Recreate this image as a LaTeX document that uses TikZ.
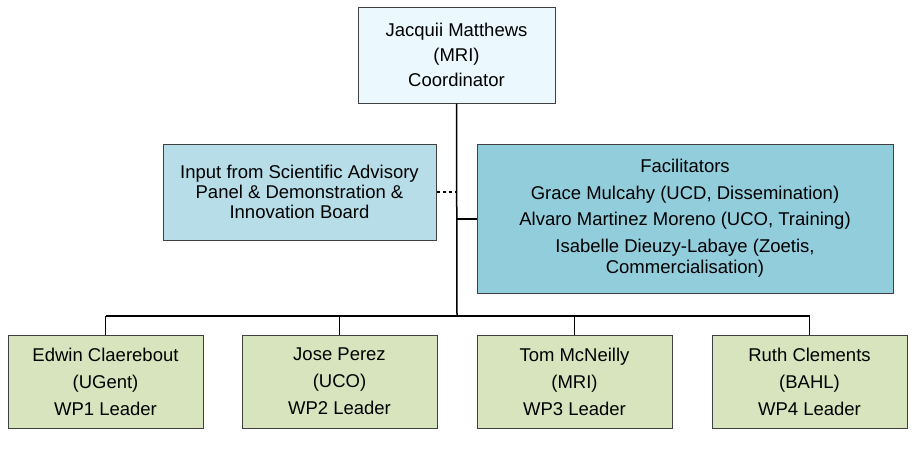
\documentclass[tikz,border=0pt]{standalone}
\usepackage{fontspec}
\setmainfont{Liberation Sans}
\begin{document}
\begin{tikzpicture}[x=1pt,y=-1pt,
 box/.style={draw=black!75,line width=1pt,align=center,font=\fontsize{18.5}{25}\selectfont,inner sep=0pt},
 ln/.style={line width=1.5pt,black}]
\useasboundingbox (0,0) rectangle (915,448);
\node[box,fill=cyan!8!white,minimum width=197pt,minimum height=96pt] (top) at (456.5,55) {Jacquii Matthews\\(MRI)\\Coordinator};
\node[box,fill={rgb,255:red,183;green,222;blue,232},minimum width=273pt,minimum height=96pt,font=\fontsize{18.5}{20}\selectfont] (adv) at (299.5,192) {Input from Scientific Advisory\\Panel \& Demonstration \&\\Innovation Board};
\node[box,fill={rgb,255:red,146;green,205;blue,220},minimum width=416pt,minimum height=149pt,font=\fontsize{18.5}{26.5}\selectfont] (fac) at (685,218.5) {Facilitators\\Grace Mulcahy (UCD, Dissemination)\\Alvaro Martinez Moreno (UCO, Training)\\Isabelle Dieuzy-Labaye (Zoetis,\\[-5pt]Commercialisation)};
\foreach \n/\x/\a/\b/\c in {w1/105.5/Edwin Claerebout/(UGent)/WP1 Leader,w2/339.5/Jose Perez/(UCO)/WP2 Leader,w3/574.5/Tom McNeilly/(MRI)/WP3 Leader,w4/809.5/Ruth Clements/(BAHL)/WP4 Leader}
 \node[box,fill={rgb,255:red,215;green,228;blue,189},minimum width=195pt,minimum height=93pt,font=\fontsize{18.5}{27}\selectfont] (\n) at (\x,381.5) {\a\\\b\\\c};
\coordinate (j) at (457,316);
\coordinate (ja) at (457,192);
\coordinate (jf) at (457,219);
\draw[ln] (top.south) -- (j);
\draw[ln,dashed] (adv.east) -- (ja);
\draw[ln] (jf) -- (fac.west |- jf);
\draw[ln] (w1.north |- j) -- (w4.north |- j);
\foreach \n in {w1,w2,w3,w4} \draw[ln] (\n.north |- j) -- (\n.north);
\end{tikzpicture}
\end{document}
